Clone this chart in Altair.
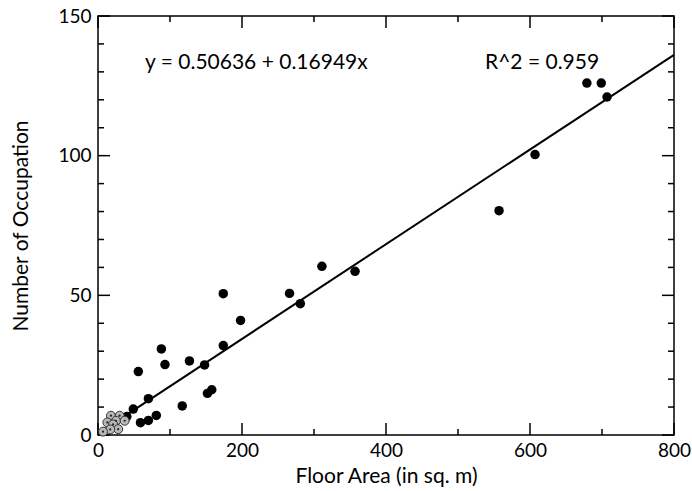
import altair as alt
import pandas as pd

# Data
black_x = [40, 49, 59, 56, 70, 70, 81, 88, 93, 117, 127, 148, 152, 158, 174, 174, 198,
           266, 281, 311, 357, 557, 607, 679, 699, 707]
black_y = [6.6, 9.3, 4.4, 22.7, 13.0, 5.2, 7.0, 30.8, 25.2, 10.4, 26.5, 25.1, 14.9, 16.2, 32.0, 50.6, 41.0,
           50.7, 47.0, 60.4, 58.6, 80.3, 100.4, 126.0, 126.0, 121.0]
gray_x = [18, 30, 25, 37, 13, 21, 28, 17, 7]
gray_y = [6.9, 6.9, 5.1, 5.1, 4.5, 3.8, 2.1, 2.0, 1.2]
fit_x = [0, 800]
fit_y = [0.50636, 136.10]

x_major = [0, 200, 400, 600, 800]
x_minor = [100, 300, 500, 700]
y_major = [0, 50, 100, 150]
y_minor = [10, 20, 30, 40, 60, 70, 80, 90, 110, 120, 130, 140]

W, H = 576, 419
FONT = "Lato"

black_df = pd.DataFrame({"x": black_x, "y": black_y})
gray_df = pd.DataFrame({"x": gray_x, "y": gray_y})
fit_df = pd.DataFrame({"x": fit_x, "y": fit_y})

xs = alt.Scale(domain=[0, 800], nice=False, zero=False)
ys = alt.Scale(domain=[0, 150], nice=False, zero=False)

x_axis = alt.Axis(title="Floor Area (in sq. m)", values=x_major, ticks=False, domain=False, grid=False,
                  labelFont=FONT, labelFontSize=19, labelColor="black", labelPadding=6,
                  titleFont=FONT, titleFontSize=21, titleFontWeight="normal", titleColor="black",
                  titlePadding=5, labelFlush=False)
y_axis = alt.Axis(title="Number of Occupation", values=y_major, ticks=False, domain=False, grid=False,
                  labelFont=FONT, labelFontSize=19, labelColor="black", labelPadding=7,
                  titleFont=FONT, titleFontSize=21, titleFontWeight="normal", titleColor="black",
                  titlePadding=26, labelFlush=False)

def X(f):
    return alt.X(f, scale=xs, axis=x_axis)

def Y(f):
    return alt.Y(f, scale=ys, axis=y_axis)

fit = alt.Chart(fit_df).mark_line(color="black", strokeWidth=2).encode(x=X("x:Q"), y=Y("y:Q"))

blk = alt.Chart(black_df).mark_circle(color="black", opacity=1, size=90).encode(x=X("x:Q"), y=Y("y:Q"))
gry = alt.Chart(gray_df).mark_point(filled=True, fill="#b8b8b8", stroke="#333333", strokeWidth=1,
                                     opacity=1, size=80, shape="circle").encode(x=X("x:Q"), y=Y("y:Q"))
gdot = alt.Chart(gray_df).mark_circle(color="#222222", opacity=1, size=5).encode(x=X("x:Q"), y=Y("y:Q"))

def xticks(vals, length):
    d = pd.DataFrame({"x": vals})
    bot = alt.Chart(d).mark_rule(color="black", strokeWidth=1.5).encode(
        x=X("x:Q"), y=alt.value(H), y2=alt.value(H - length))
    top = alt.Chart(d).mark_rule(color="black", strokeWidth=1.5).encode(
        x=X("x:Q"), y=alt.value(0), y2=alt.value(length))
    return [bot, top]

def yticks(vals, length):
    d = pd.DataFrame({"y": vals})
    left = alt.Chart(d).mark_rule(color="black", strokeWidth=1.5).encode(
        y=Y("y:Q"), x=alt.value(0), x2=alt.value(length))
    right = alt.Chart(d).mark_rule(color="black", strokeWidth=1.5).encode(
        y=Y("y:Q"), x=alt.value(W), x2=alt.value(W - length))
    return [left, right]

eq = alt.Chart(pd.DataFrame({"t": ["y = 0.50636 + 0.16949x"]})).mark_text(
    font=FONT, fontSize=21, align="left", baseline="middle", color="black").encode(
    text="t:N", x=alt.value(47), y=alt.value(47))
r2 = alt.Chart(pd.DataFrame({"t": ["R^2 = 0.959"]})).mark_text(
    font=FONT, fontSize=21, align="left", baseline="middle", color="black").encode(
    text="t:N", x=alt.value(387), y=alt.value(47))

layers = [fit] + xticks(x_major, 12) + xticks(x_minor, 6) + yticks(y_major, 12) + yticks(y_minor, 6) + [blk, gry, gdot, eq, r2]

chart = alt.layer(*layers).properties(
    width=W, height=H,
    autosize=alt.AutoSizeParams(type="none"),
    padding={"left": 98, "top": 16, "right": 18, "bottom": 56},
    background="white",
).configure_view(stroke="black", strokeWidth=1.5)

chart.save("out.html", embed_options={"renderer": "svg", "actions": False})
